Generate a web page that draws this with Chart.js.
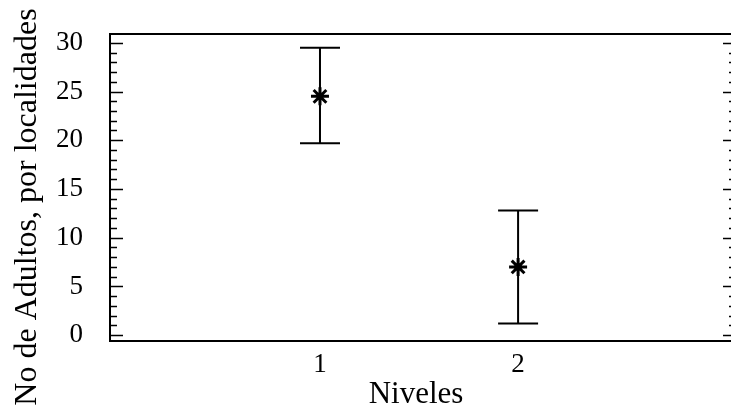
<!DOCTYPE html>
<html>
<head>
<meta charset="utf-8">
<script src="https://cdn.jsdelivr.net/npm/chart.js@4"></script>
<style>
  html, body { margin: 0; padding: 0; background: #fff; overflow: hidden; }
</style>
</head>
<body>
<canvas id="myChart" width="745" height="414"></canvas>
<script>
// data
var niveles = [1, 2];
var medias = [24.5, 7.0];
var superior = [29.5, 12.8];
var inferior = [19.7, 1.2];
var yTicks = [0, 5, 10, 15, 20, 25, 30];
var tituloY = 'No de Adultos, por localidades';
var tituloX = 'Niveles';

var serif = "'Liberation Serif', 'Times New Roman', serif";

// frame, inward ticks, error bars and the axis titles
var marcoPlugin = {
    id: 'marco',
    afterDraw: function (chart) {
        var c = chart.ctx, a = chart.chartArea, y = chart.scales.y, x = chart.scales.x;
        c.save();
        c.strokeStyle = '#000';
        c.lineWidth = 2;
        c.strokeRect(a.left, a.top, a.right - a.left, a.bottom - a.top);

        c.lineWidth = 1.5;
        for (var v = 0; v <= 30; v++) {
            var py = Math.round(y.getPixelForValue(v)) + 0.5;
            var len = (v % 5 === 0) ? 13 : 7;
            c.beginPath();
            c.moveTo(a.left, py); c.lineTo(a.left + len, py);
            c.moveTo(a.right, py); c.lineTo(a.right - len, py);
            c.stroke();
        }

        // error bars
        c.lineWidth = 2;
        for (var i = 0; i < niveles.length; i++) {
            var px = x.getPixelForValue(niveles[i]);
            var top = y.getPixelForValue(superior[i]);
            var bot = y.getPixelForValue(inferior[i]);
            c.beginPath();
            c.moveTo(px, top); c.lineTo(px, bot);
            c.moveTo(px - 20, top); c.lineTo(px + 20, top);
            c.moveTo(px - 20, bot); c.lineTo(px + 20, bot);
            c.stroke();
        }

        c.fillStyle = '#000';
        c.textAlign = 'center';
        c.textBaseline = 'middle';
        c.font = '31px ' + serif;
        c.fillText(tituloX, 416, 395);

        // y title, centred on the page height like the scan
        c.translate(28, 207);
        c.rotate(-Math.PI / 2);
        c.font = '32px ' + serif;
        c.fillText(tituloY, 0, 0);
        c.restore();
    }
};

var ctx = document.getElementById('myChart').getContext('2d');
var myChart = new Chart(ctx, {
    type: 'scatter',
    data: {
        datasets: [{
            label: 'medias',
            data: niveles.map(function (n, i) { return { x: n, y: medias[i] }; }),
            pointStyle: 'star',
            radius: 9,
            borderWidth: 3,
            borderColor: '#000',
            backgroundColor: '#000'
        }]
    },
    options: {
        responsive: false,
        animation: false,
        layout: { autoPadding: false, padding: { top: 34, right: 9, left: 0, bottom: 0 } },
        plugins: {
            legend: { display: false },
            tooltip: { enabled: false }
        },
        scales: {
            x: {
                type: 'linear',
                min: -0.06,
                max: 3.1,
                afterBuildTicks: function (s) { s.ticks = niveles.map(function (v) { return { value: v }; }); },
                afterFit: function (s) {
                    s.height = 414 - 341;
                    s.paddingLeft = 0; s.paddingRight = 0;
                },
                grid: { display: false, drawTicks: false },
                border: { display: false },
                ticks: {
                    color: '#000',
                    padding: 8,
                    font: { family: serif, size: 27 }
                },
                title: { display: false }
            },
            y: {
                min: -0.6,
                max: 30.9,
                afterBuildTicks: function (s) { s.ticks = yTicks.map(function (v) { return { value: v }; }); },
                afterFit: function (s) {
                    s.width = 110;
                    s.paddingTop = 0; s.paddingBottom = 0;
                },
                grid: { display: false, drawTicks: false },
                border: { display: false },
                ticks: {
                    color: '#000',
                    padding: 27,
                    font: { family: serif, size: 27 }
                },
                title: { display: false }
            }
        }
    },
    plugins: [marcoPlugin]
});
</script>
</body>
</html>
